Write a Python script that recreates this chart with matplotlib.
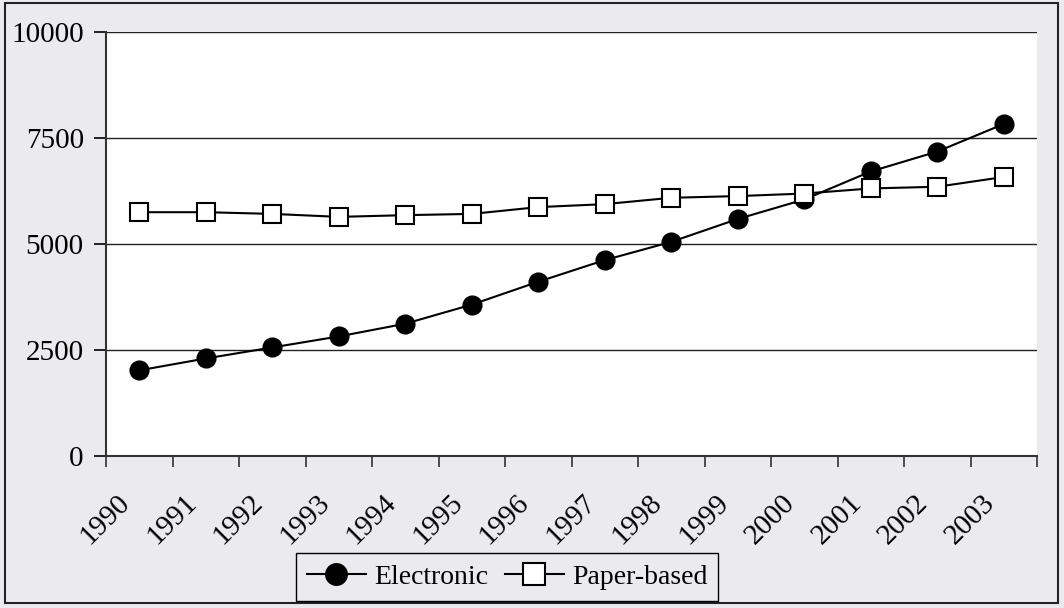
import matplotlib
matplotlib.use("Agg")
import matplotlib.pyplot as plt
import matplotlib.transforms as mtransforms
from matplotlib.patches import Rectangle
import numpy as np

years = ["1990", "1991", "1992", "1993", "1994", "1995", "1996",
         "1997", "1998", "1999", "2000", "2001", "2002", "2003"]
electronic = [2020, 2300, 2560, 2820, 3120, 3570, 4110,
              4620, 5050, 5590, 6050, 6710, 7180, 7830]
paper_based = [5750, 5750, 5710, 5640, 5680, 5710, 5870,
               5940, 6090, 6130, 6190, 6310, 6350, 6580]
y_ticks = [0, 2500, 5000, 7500, 10000]

plt.rcParams['font.family'] = ['Liberation Serif', 'DejaVu Serif']
FS = 21
FS_LEG = 20
bg = '#ebebee'

fig = plt.figure(figsize=(10.64, 6.08), dpi=100, facecolor=bg)
fig.patches.append(Rectangle((5/1064, 1 - 603/608), 1053/1064, 600/608,
                             transform=fig.transFigure, fill=False,
                             edgecolor='#222222', linewidth=1.5, zorder=0))

ax = fig.add_axes([106/1064, 1 - 456/608, 931/1064, 424/608])
ax.set_facecolor('white')

x = np.arange(len(years))
ax.plot(x, electronic, color='black', linewidth=1.5, marker='o',
        markersize=13.5, markerfacecolor='black', markeredgecolor='black',
        label='Electronic', zorder=3, clip_on=False)
ax.plot(x, paper_based, color='black', linewidth=1.5, marker='s',
        markersize=12.5, markerfacecolor='white', markeredgecolor='black',
        markeredgewidth=1.5, label='Paper-based', zorder=4, clip_on=False)

ax.set_xlim(-0.5, len(years) - 0.5)
ax.set_ylim(0, 10000)
ax.set_yticks(y_ticks)
ax.set_yticklabels([str(v) for v in y_ticks], fontsize=FS)
for v in y_ticks[1:]:
    ax.axhline(v, color='#222222', linewidth=1.0, zorder=1)

for s in ['top', 'right']:
    ax.spines[s].set_visible(False)
for s in ['left', 'bottom']:
    ax.spines[s].set_color('#333333')
    ax.spines[s].set_linewidth(1.5)

ax.tick_params(axis='y', direction='out', length=9, width=1.2, pad=7, colors='black')
ax.set_xticks(x)
ax.set_xticks(np.arange(-0.5, len(years), 1.0), minor=True)
ax.tick_params(axis='x', which='major', length=0, pad=0)
ax.tick_params(axis='x', which='minor', direction='out', length=8, width=1.2, color='#333333')
ax.set_xticklabels(years, fontsize=FS, rotation=45, ha='right', va='center',
                   rotation_mode='anchor')
offset = mtransforms.ScaledTranslation(-13/100, -43/100, fig.dpi_scale_trans)
for lab in ax.get_xticklabels():
    lab.set_transform(lab.get_transform() + offset)

leg = fig.legend(loc='center', bbox_to_anchor=(507/1064, 1 - 577/608),
                 ncol=2, fontsize=FS_LEG, frameon=True, fancybox=False,
                 edgecolor='black', facecolor=bg, framealpha=1,
                 handlelength=2.12, handletextpad=0.3, columnspacing=0.6,
                 borderpad=0.4, borderaxespad=0)
leg.get_frame().set_linewidth(1.0)
for h in leg.legend_handles:
    h.set_markersize(15.5)

fig.savefig('out.png', dpi=100, facecolor=bg)
